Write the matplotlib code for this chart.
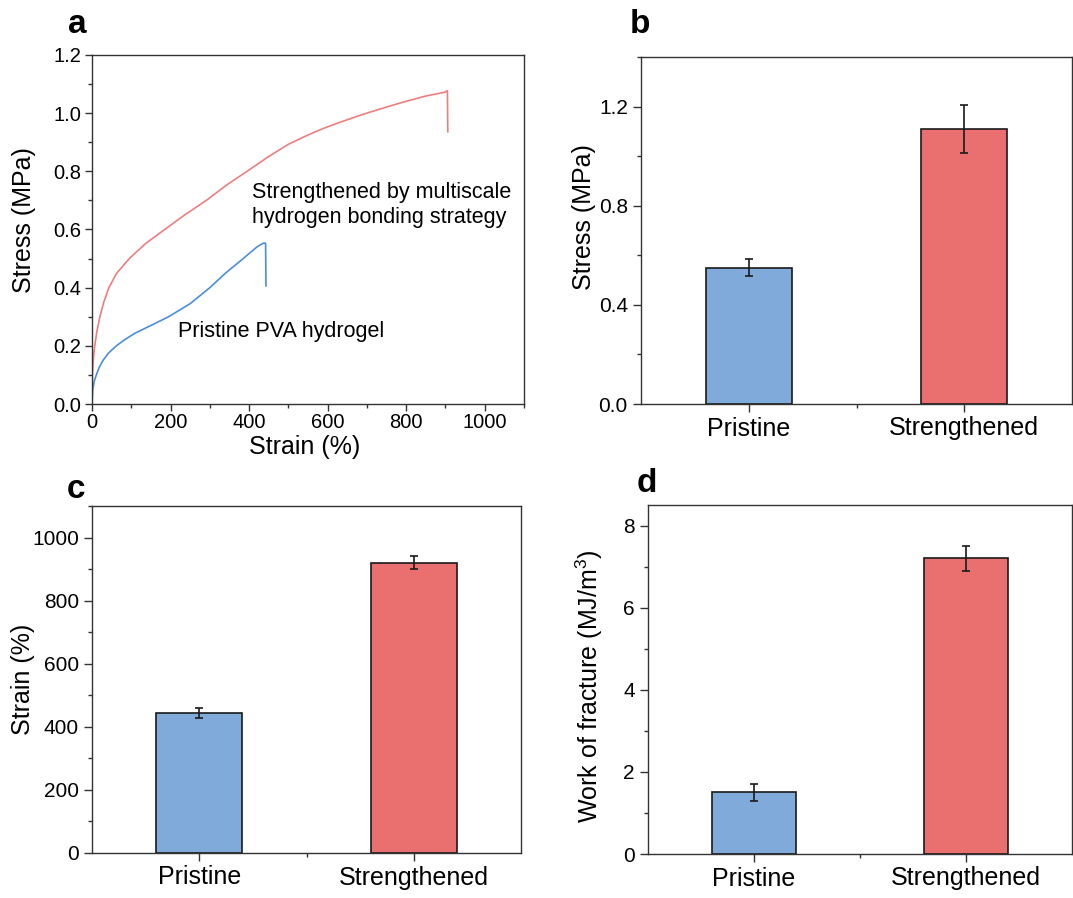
import matplotlib
matplotlib.use("Agg")
import matplotlib.pyplot as plt
from matplotlib.ticker import MultipleLocator, FormatStrFormatter

plt.rcParams['font.family'] = ['Liberation Sans', 'DejaVu Sans']
plt.rcParams['mathtext.fontset'] = 'custom'
plt.rcParams['mathtext.rm'] = 'Liberation Sans'

# panel a: stress-strain curves
red_strain = [0, 0.3, 1, 3, 7, 12.5, 20, 30, 43, 63, 95, 135, 185, 236, 291, 344,
              398, 450, 500, 550, 590, 630, 690, 740, 790, 847, 898, 905, 906]
red_stress = [0, 0.05, 0.1, 0.15, 0.2, 0.25, 0.3, 0.35, 0.4, 0.45, 0.5, 0.55, 0.6,
              0.65, 0.7, 0.754, 0.803, 0.851, 0.893, 0.925, 0.948, 0.968, 0.996,
              1.017, 1.037, 1.058, 1.072, 1.077, 0.936]
blue_strain = [0, 2, 6, 11, 18, 28, 42, 62, 82, 109, 150, 195, 250, 300, 340, 385,
               420, 436, 442, 443]
blue_stress = [0, 0.05, 0.08, 0.1, 0.125, 0.15, 0.175, 0.2, 0.22, 0.243, 0.27, 0.3,
               0.345, 0.4, 0.45, 0.5, 0.54, 0.553, 0.553, 0.406]

# bar panels
groups = ["Pristine", "Strengthened"]
stress_mean = [0.55, 1.11]
stress_err = [0.033, 0.097]
strain_mean = [445, 920]
strain_err = [16, 20]
work_mean = [1.5, 7.2]
work_err = [0.21, 0.31]

bar_colors = ["#80AADA", "#EA6F6F"]
line_red = "#EE7E7E"
line_blue = "#4C8FD6"
frame = "#333333"

W, H = 1073, 898
fig = plt.figure(figsize=(W / 100, H / 100), dpi=100)


def box(left, right, top, bottom):
    return [left / W, 1 - bottom / H, (right - left) / W, (bottom - top) / H]


def style(ax, tick_size):
    for s in ax.spines.values():
        s.set_color(frame)
        s.set_linewidth(1.0)
    ax.tick_params(which='major', direction='out', length=5, width=1.0,
                   color=frame, labelsize=tick_size, pad=2.5)
    ax.tick_params(which='minor', direction='out', length=3, width=1.0, color=frame)
    ax.tick_params(top=False, right=False, which='both')


# ---- a ----
ax = fig.add_axes(box(92, 524, 55, 404))
ax.plot(red_strain, red_stress, color=line_red, lw=1.2)
ax.plot(blue_strain, blue_stress, color=line_blue, lw=1.2)
ax.set_xlim(0, 1100)
ax.set_ylim(0, 1.2)
ax.xaxis.set_major_locator(MultipleLocator(200))
ax.xaxis.set_minor_locator(MultipleLocator(100))
ax.yaxis.set_major_locator(MultipleLocator(0.2))
ax.yaxis.set_minor_locator(MultipleLocator(0.1))
ax.yaxis.set_major_formatter(FormatStrFormatter('%.1f'))
style(ax, 14.5)
ax.tick_params(axis='x', pad=1.5)
ax.set_xlabel("Strain (%)", fontsize=18, va='center')
ax.xaxis.set_label_coords(0.493, -0.123)
ax.set_ylabel("Stress (MPa)", fontsize=18, va='center')
ax.yaxis.set_label_coords((24 - 92) / 432, 0.527)
ax.text(408, 0.707, "Strengthened by multiscale", fontsize=15.5, va='baseline')
ax.text(408, 0.621, "hydrogen bonding strategy", fontsize=15.5, va='baseline')
ax.text(218, 0.23, "Pristine PVA hydrogel", fontsize=15.5, va='baseline')


def bar_panel(rect, means, errs, ylim, major, minor, fmt, ylabel, lab_x, lab_y):
    ax = fig.add_axes(rect)
    ax.bar([0, 1], means, width=0.4, color=bar_colors, edgecolor='#1a1a1a',
           linewidth=1.2, zorder=2)
    ax.errorbar([0, 1], means, yerr=errs, fmt='none', ecolor='#1a1a1a',
                elinewidth=1.2, capsize=3, capthick=1.2, zorder=3)
    ax.set_xlim(-0.5, 1.5)
    ax.set_ylim(*ylim)
    ax.set_xticks([0, 1])
    ax.set_xticklabels(groups, fontsize=18)
    ax.set_xticks([0.5], minor=True)
    ax.yaxis.set_major_locator(MultipleLocator(major))
    ax.yaxis.set_minor_locator(MultipleLocator(minor))
    ax.yaxis.set_major_formatter(FormatStrFormatter(fmt))
    style(ax, 15)
    ax.tick_params(axis='x', which='major', length=6, labelsize=18, pad=3)
    ax.tick_params(axis='y', which='major', length=6, pad=3.5)
    ax.set_ylabel(ylabel, fontsize=18, va='center')
    ax.yaxis.set_label_coords(lab_x, lab_y)
    return ax


# ---- b ----
bar_panel(box(641, 1072, 57, 404), stress_mean, stress_err, (0, 1.4), 0.4, 0.2,
          '%.1f', "Stress (MPa)", (584 - 641) / 431, 0.539)
# ---- c ----
bar_panel(box(92, 521, 506, 853), strain_mean, strain_err, (0, 1100), 200, 100,
          '%d', "Strain (%)", (23 - 92) / 429, 0.5)
# ---- d ----
bar_panel(box(648, 1072, 505, 854), work_mean, work_err, (0, 8.5), 2, 1,
          '%d', "Work of fracture (MJ/m$^3$)", (589 - 648) / 424, 0.481)

for lab, x, y in [("a", 77, 33), ("b", 640, 33), ("c", 76, 498), ("d", 647, 492)]:
    fig.text(x / W, 1 - y / H, lab, fontsize=24, fontweight='bold',
             ha='center', va='baseline')

fig.savefig("out.png", dpi=100, facecolor='white')
